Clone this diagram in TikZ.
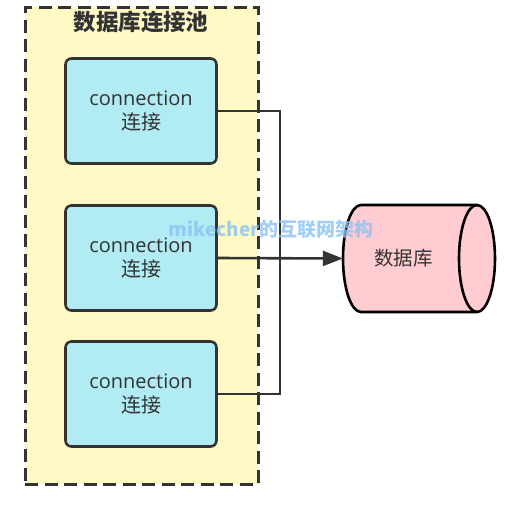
\documentclass[tikz,border=0pt]{standalone}
\usepackage{fontspec}
\setmainfont{Open Sans}
\newfontfamily\cjk{Noto Sans CJK SC}
\usetikzlibrary{arrows.meta}
\definecolor{poolfill}{HTML}{FFF9C6}
\definecolor{connfill}{HTML}{B1EBF3}
\definecolor{dbfill}{HTML}{FFCCD2}
\definecolor{stroke}{HTML}{333333}
\definecolor{wmcol}{HTML}{8AC2F5}
\tikzset{
  poolbox/.style={draw=stroke, fill=poolfill, line width=3pt, dash pattern=on 13pt off 6.5pt, minimum width=233pt, minimum height=477pt, inner sep=0pt},
  connbox/.style={draw=stroke, fill=connfill, line width=2.6pt, rounded corners=6pt, minimum width=151pt, minimum height=105pt, align=center, text=stroke, font=\fontsize{20}{24}\selectfont, inner sep=0pt},
  link/.style={draw=stroke, line width=2.6pt},
}
\begin{document}
\begin{tikzpicture}[x=1pt,y=-1pt]
\useasboundingbox (0,0) rectangle (506,509);
\node[poolbox] (pool) at (141.5,245.5) {};
\node[text=stroke, font=\cjk\bfseries\fontsize{22.5}{26}\selectfont] (title) at (141,22) {数据库连接池};
\node[connbox] (c1) at (141,111) {connection\\[0pt]{\cjk 连接}};
\node[connbox] (c2) at (141,258) {connection\\[0pt]{\cjk 连接}};
\node[connbox] (c3) at (141,394) {connection\\[0pt]{\cjk 连接}};
% database cylinder
\fill[dbfill] (361,205) -- (477,205) arc[start angle=-90, end angle=90, x radius=18, y radius=53.5] -- (361,312) arc[start angle=90, end angle=270, x radius=18, y radius=53.5] -- cycle;
\draw[stroke, line width=2.6pt] (477,205) -- (361,205) arc[start angle=-90, end angle=-270, x radius=18, y radius=53.5] -- (477,312);
\draw[stroke, line width=2.6pt] (477,258.5) ellipse[x radius=18, y radius=53.5];
\node[minimum width=152pt, minimum height=107pt, inner sep=0pt, text=stroke, font=\cjk\fontsize{19.5}{23}\selectfont] (db) at (419,258.5) {\hspace*{-31pt}数据库};
% connectors
\coordinate (j1) at (280,111);
\coordinate (j3) at (280,394);
\draw[link] (c1.east) -- (j1) -- (j3) -- (c3.east);
\draw[link, -{Triangle[length=20pt, width=15pt]}] (c2.east) -- (db.west);
% watermark
\node[text=wmcol, opacity=0.8, font=\cjk\bfseries\fontsize{19}{23}\selectfont] (wm) at (271,229) {mikecher的互联网架构};
\end{tikzpicture}
\end{document}
